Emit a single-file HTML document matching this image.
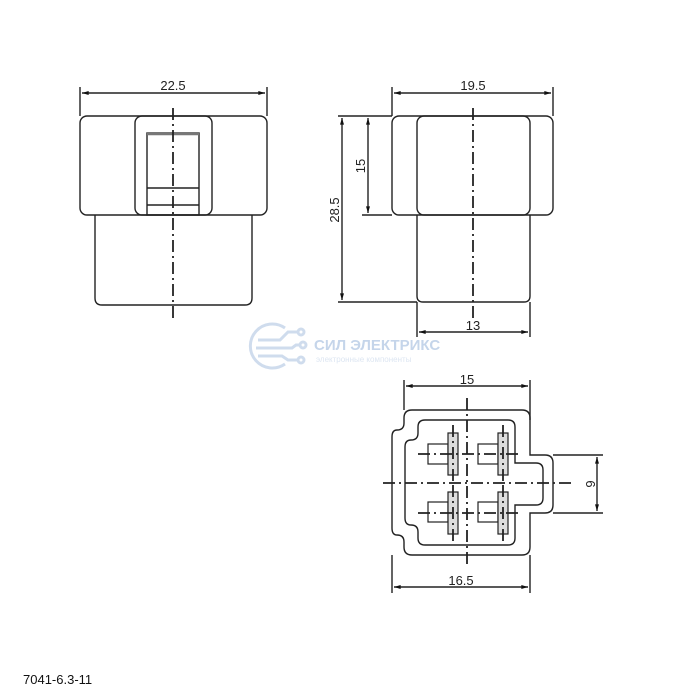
<!DOCTYPE html>
<html><head><meta charset="utf-8"><style>html,body{margin:0;padding:0;background:#fff}svg{display:block}</style></head>
<body>
<svg width="700" height="700" viewBox="0 0 700 700" xmlns="http://www.w3.org/2000/svg">
<defs>
<marker id="a" viewBox="0 0 10 6" refX="10" refY="3" markerWidth="10" markerHeight="4" orient="auto-start-reverse" markerUnits="userSpaceOnUse"><path d="M0,0 L10,3 L0,6z" fill="#111"/></marker>
</defs>
<g fill="none" stroke="#222" stroke-width="1.4">
<!-- view 1 -->
<line x1="80" y1="87" x2="80" y2="116"/><line x1="267" y1="87" x2="267" y2="116"/>
<line x1="82" y1="93" x2="265" y2="93" marker-start="url(#a)" marker-end="url(#a)"/>
<rect x="80" y="116" width="187" height="99" rx="7"/>
<rect x="135" y="116" width="77" height="99" rx="7"/>
<rect x="147" y="133" width="52" height="82"/>
<line x1="147" y1="134" x2="199" y2="134" stroke-width="2.5" stroke="#777"/>
<line x1="147" y1="188" x2="199" y2="188"/><line x1="147" y1="205" x2="199" y2="205"/>
<path d="M95,215 V298 Q95,305 102,305 H245 Q252,305 252,298 V215"/>
<line x1="173" y1="108" x2="173" y2="322" stroke-dasharray="12,4,2,4" stroke-width="1.8"/>
<!-- view 2 -->
<line x1="392" y1="87" x2="392" y2="116"/><line x1="553" y1="87" x2="553" y2="116"/>
<line x1="394" y1="93" x2="551" y2="93" marker-start="url(#a)" marker-end="url(#a)"/>
<rect x="392" y="116" width="161" height="99" rx="7"/>
<rect x="417" y="116" width="113" height="99" rx="7"/>
<path d="M417,215 V296 Q417,302 423,302 H524 Q530,302 530,296 V215"/>
<line x1="473" y1="108" x2="473" y2="318" stroke-dasharray="12,4,2,4" stroke-width="1.8"/>
<line x1="338" y1="116" x2="392" y2="116"/><line x1="338" y1="302" x2="417" y2="302"/>
<line x1="362" y1="215" x2="392" y2="215"/>
<line x1="342" y1="118" x2="342" y2="300" marker-start="url(#a)" marker-end="url(#a)"/>
<line x1="368" y1="118" x2="368" y2="213" marker-start="url(#a)" marker-end="url(#a)"/>
<line x1="417" y1="302" x2="417" y2="337"/><line x1="530" y1="302" x2="530" y2="337"/>
<line x1="419" y1="332" x2="528" y2="332" marker-start="url(#a)" marker-end="url(#a)"/>
<!-- view 3 -->
<line x1="404" y1="380" x2="404" y2="410"/><line x1="530" y1="380" x2="530" y2="420"/>
<line x1="406" y1="386" x2="528" y2="386" marker-start="url(#a)" marker-end="url(#a)"/>
<path d="M412,410 H522 Q530,410 530,418 V455 H545 Q553,455 553,463 V505 Q553,513 545,513 H530 V547 Q530,555 522,555 H412 Q404,555 404,547 V542 Q404,535 397,535 Q392,535 392,528 V437 Q392,430 397,430 Q404,430 404,423 V418 Q404,410 412,410Z"/>
<path d="M425,420 H508 Q515,420 515,427 V463 H536 Q543,463 543,470 V498 Q543,505 536,505 H515 V538 Q515,545 508,545 H425 Q418,545 418,538 V532 Q418,525 411,525 Q405,525 405,518 V447 Q405,440 411,440 Q418,440 418,433 V427 Q418,420 425,420Z"/>
<line x1="392" y1="555" x2="392" y2="593"/><line x1="530" y1="555" x2="530" y2="593"/>
<line x1="394" y1="587" x2="528" y2="587" marker-start="url(#a)" marker-end="url(#a)"/>
<line x1="553" y1="455" x2="603" y2="455"/><line x1="553" y1="513" x2="603" y2="513"/>
<line x1="597" y1="457" x2="597" y2="511" marker-start="url(#a)" marker-end="url(#a)"/>
<g stroke-width="1.2">
<rect x="428" y="444" width="20" height="20"/><rect x="478" y="444" width="20" height="20"/>
<rect x="428" y="502" width="20" height="20"/><rect x="478" y="502" width="20" height="20"/>
<rect x="448" y="433" width="10" height="42" fill="#ddd"/><rect x="498" y="433" width="10" height="42" fill="#ddd"/>
<rect x="448" y="492" width="10" height="42" fill="#ddd"/><rect x="498" y="492" width="10" height="42" fill="#ddd"/>
</g>
<g stroke-width="1.8" stroke-dasharray="12,4,2,4">
<line x1="467" y1="398" x2="467" y2="566"/>
<line x1="383" y1="483" x2="575" y2="483"/>
<line x1="418" y1="454" x2="520" y2="454"/><line x1="418" y1="513" x2="520" y2="513"/>
<line x1="453" y1="425" x2="453" y2="483"/><line x1="503" y1="425" x2="503" y2="483"/>
<line x1="453" y1="485" x2="453" y2="542"/><line x1="503" y1="485" x2="503" y2="542"/>
</g>
</g>
<g font-family="Liberation Sans, sans-serif" font-size="13" fill="#222">
<text x="173" y="90" text-anchor="middle">22.5</text>
<text x="473" y="90" text-anchor="middle">19.5</text>
<text x="473" y="330" text-anchor="middle">13</text>
<text x="467" y="384" text-anchor="middle">15</text>
<text x="461" y="585" text-anchor="middle">16.5</text>
<text transform="translate(365,166) rotate(-90)" text-anchor="middle">15</text>
<text transform="translate(339,210) rotate(-90)" text-anchor="middle">28.5</text>
<text transform="translate(595,484) rotate(-90)" text-anchor="middle">9</text>
<text x="23" y="684" font-size="13" fill="#111">7041-6.3-11</text>
</g>
<!-- watermark -->
<g opacity="0.55" stroke="#a9c0e0" fill="none" stroke-width="3">
<path d="M285,328 A22,22 0 1 0 285,364"/>
<path d="M258,340 H280 L288,332 H298"/><circle cx="301" cy="332" r="3"/>
<path d="M256,348 H292 L296,345 H300"/><circle cx="303" cy="345" r="3"/>
<path d="M258,356 H282 L288,360 H298"/><circle cx="301" cy="360" r="3"/>
</g>
<text x="314" y="350" font-family="Liberation Sans, sans-serif" font-weight="bold" font-size="15" fill="#c5d5ea">СИЛ ЭЛЕКТРИКС</text>
<text x="316" y="362" font-family="Liberation Sans, sans-serif" font-size="8" fill="#dde6f2">электронные компоненты</text>
</svg>
</body></html>
